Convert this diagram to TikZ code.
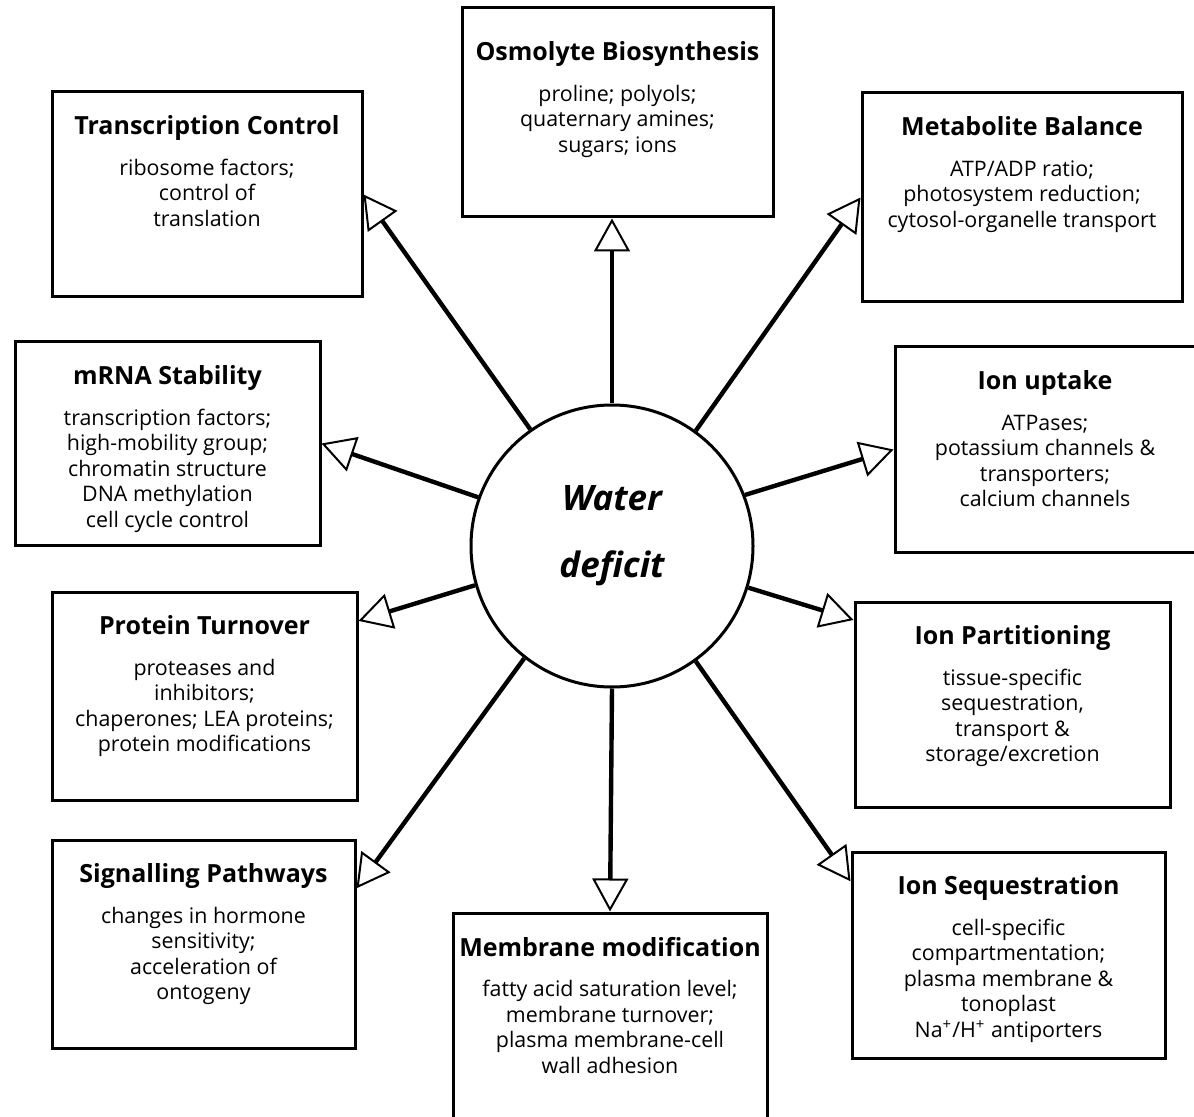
\documentclass[tikz,border=0pt]{standalone}
\usepackage{fontspec}
\setmainfont{Open Sans}
\usetikzlibrary{arrows.meta,positioning}
\newcommand\boxtitle[1]{{\bfseries\fontsize{12.5}{13}\selectfont #1}\\[7.5pt]}

\begin{document}
\begin{tikzpicture}[x=0.5pt,y=-0.5pt,
    box/.style 2 args={draw, line width=1.5pt, minimum width=#1*0.5pt,
      minimum height=#2*0.5pt, inner sep=0pt},
    txt/.style={align=center, inner sep=0pt, font=\fontsize{10.7}{12.75}\selectfont},
    arr/.style={line width=2.2pt,
      -{Triangle[open, line width=1pt, length=16.5pt, width=18pt]}}]
  \useasboundingbox (0,0) rectangle (1194,1117);
  \clip (0,0) rectangle (1194,1117);

  \node [circle, draw, line width=1.5pt, minimum size=141pt, inner sep=0pt] (wd) at (612,546) {};
  \node [align=center, inner sep=0pt, font=\bfseries\itshape\fontsize{17.5}{33.5}\selectfont] (wdt) at (612,536) {Water\\deficit};

  \node [box={310}{205}] (tc) at (207,194.5) {};
  \node [box={311}{209}] (ob) at (617.5,112.5) {};
  \node [box={320}{209}] (mb) at (1022,197.5) {};
  \node [box={305}{203}] (ms) at (167.5,443.5) {};
  \node [box={300}{205}] (iu) at (1045,449.5) {};
  \node [box={305}{208}] (pt) at (204.5,696) {};
  \node [box={315}{205}] (ip) at (1012.5,704.5) {};
  \node [box={303}{208}] (sp) at (203.5,944) {};
  \node [box={314}{260}] (mm) at (610,1043) {};
  \node [box={313}{206}] (is) at (1008.5,955) {};

  \node [txt, below=12.5pt of tc.north] (tct) {\boxtitle{Transcription Control}
    ribosome factors;\\control of\\translation};
  \node [txt, below=17.5pt of ob.north] (obt) {\boxtitle{Osmolyte Biosynthesis}
    proline; polyols;\\quaternary amines;\\sugars; ions};
  \node [txt, below=12.5pt of mb.north] (mbt) {\boxtitle{Metabolite Balance}
    ATP/ADP ratio;\\photosystem reduction;\\cytosol-organelle transport};
  \node [txt, below=12.5pt of ms.north] (mst) {\boxtitle{mRNA Stability}
    transcription factors;\\high-mobility group;\\chromatin structure\\DNA methylation\\cell cycle control};
  \node [txt, below=12.5pt of iu.north] (iut) {\boxtitle{Ion uptake}
    ATPases;\\potassium channels \&\\transporters;\\calcium channels};
  \node [txt, below=12.5pt of pt.north] (ptt) {\boxtitle{Protein Turnover}
    proteases and\\inhibitors;\\chaperones; LEA proteins;\\protein modifications};
  \node [txt, below=12.5pt of ip.north] (ipt) {\boxtitle{Ion Partitioning}
    tissue-specific\\sequestration,\\transport \&\\storage/excretion};
  \node [txt, below=12.5pt of sp.north] (spt) {\boxtitle{Signalling Pathways}
    changes in hormone\\sensitivity;\\acceleration of\\ontogeny};
  \node [txt, below=12.5pt of mm.north] (mmt) {\boxtitle{Membrane modification}
    fatty acid saturation level;\\membrane turnover;\\plasma membrane-cell\\wall adhesion};
  \node [txt, below=12.5pt of is.north] (ist) {\boxtitle{Ion Sequestration}
    cell-specific\\compartmentation;\\plasma membrane \&\\tonoplast\\Na\textsuperscript{+}/H\textsuperscript{+} antiporters};

  \draw [arr] (wd.90) -- (ob.south -| wd);
  \draw [arr] (wd.270) -- (mm.north);
  \draw [arr] (wd.125) -- (tc.east);
  \draw [arr] (wd.54) -- (mb.west);
  \draw [arr] (wd.160) -- (ms.east);
  \draw [arr] (wd.21) -- (iu.west);
  \draw [arr] (wd.196) -- (pt.26.5);
  \draw [arr] (wd.343) -- (ip.152.4);
  \draw [arr] (wd.232) -- (sp.20.9);
  \draw [arr] (wd.306) -- (is.155.5);
\end{tikzpicture}
\end{document}
